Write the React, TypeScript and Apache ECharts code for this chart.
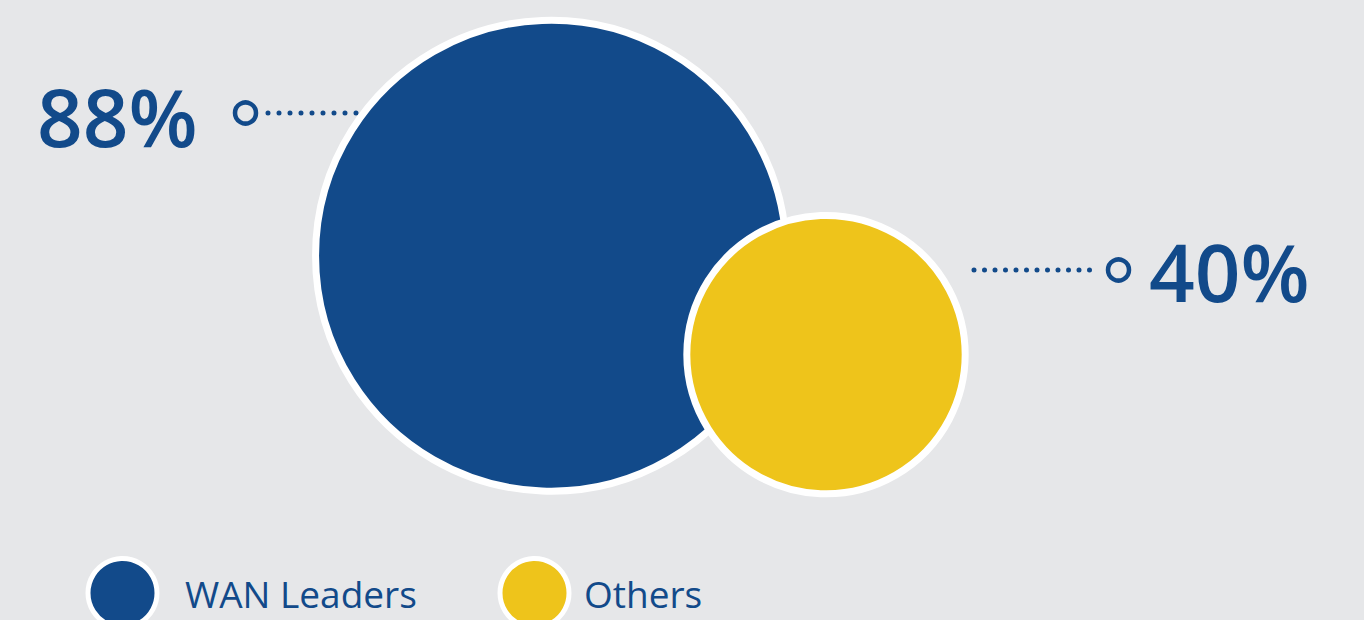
import React, { useEffect, useRef } from "react";
import * as echarts from "echarts";

const categories = ["WAN Leaders", "Others"];
const values = [88, 40];
const colors = ["#124a8a", "#eec41b"];

const BLUE = "#124a8a";
const BG = "#e6e7e9";

export default function App() {
  const ref = useRef<HTMLDivElement>(null);

  useEffect(() => {
    document.body.style.margin = "0";
    const chart = echarts.init(ref.current!, undefined, { renderer: "svg" });

    const series = categories.map((name, i) => ({
      type: "scatter" as const,
      name,
      data: [[name, values[i]]],
      symbol: "circle",
      symbolSize: (v: any) => 23.8 * Math.pow(v[1], 2 / 3),
      itemStyle: { color: colors[i], borderColor: "#ffffff", borderWidth: 7, opacity: 1 },
      z: 2 + i,
      emphasis: { disabled: true },
    }));

    const legendBase = {
      top: 556,
      padding: 0,
      icon: "circle",
      itemWidth: 69,
      itemHeight: 69,
      itemStyle: { borderColor: "#ffffff", borderWidth: 5 },
      selectedMode: false,
    };

    chart.setOption({
      animation: false,
      backgroundColor: BG,
      grid: { left: 413.5, right: 400.5, top: 231, bottom: 183 },
      xAxis: {
        type: "category",
        data: categories,
        boundaryGap: true,
        show: false,
      },
      yAxis: { type: "value", min: 0, max: 100, show: false },
      legend: [
        {
          ...legendBase,
          data: [categories[0]],
          left: 85.5,
          textStyle: {
            color: BLUE,
            fontSize: 37,
            lineHeight: 38,
            fontFamily: "Open Sans",
            padding: [0, 0, 0, 23],
          },
        },
        {
          ...legendBase,
          data: [categories[1]],
          left: 497.5,
          textStyle: {
            color: BLUE,
            fontSize: 37,
            lineHeight: 38,
            fontFamily: "Open Sans",
            padding: [0, 0, 0, 10],
          },
        },
      ],
      series,
      graphic: [
        {
          type: "line",
          z: 1,
          shape: { x1: 268, y1: 113, x2: 366, y2: 113 },
          style: { stroke: BLUE, lineWidth: 5, lineCap: "round", lineDash: [0, 11] },
        },
        {
          type: "circle",
          z: 1,
          shape: { cx: 245.5, cy: 113, r: 10.5 },
          style: { fill: "none", stroke: BLUE, lineWidth: 4.5 },
        },
        {
          type: "text",
          z: 5,
          x: 37,
          y: 115,
          style: {
            text: `${values[0]}%`,
            fill: BLUE,
            font: "600 80px 'Open Sans'",
            align: "left",
            verticalAlign: "middle",
          },
        },
        {
          type: "line",
          z: 1,
          shape: { x1: 974, y1: 270, x2: 1100, y2: 270 },
          style: { stroke: BLUE, lineWidth: 5, lineCap: "round", lineDash: [0, 10.5] },
        },
        {
          type: "circle",
          z: 1,
          shape: { cx: 1118.5, cy: 270, r: 10.5 },
          style: { fill: "none", stroke: BLUE, lineWidth: 4.5 },
        },
        {
          type: "text",
          z: 5,
          x: 1149,
          y: 270,
          style: {
            text: `${values[1]}%`,
            fill: BLUE,
            font: "600 80px 'Open Sans'",
            align: "left",
            verticalAlign: "middle",
          },
        },
      ],
    });

    return () => chart.dispose();
  }, []);

  return <div ref={ref} style={{ width: 1364, height: 620 }} />;
}
